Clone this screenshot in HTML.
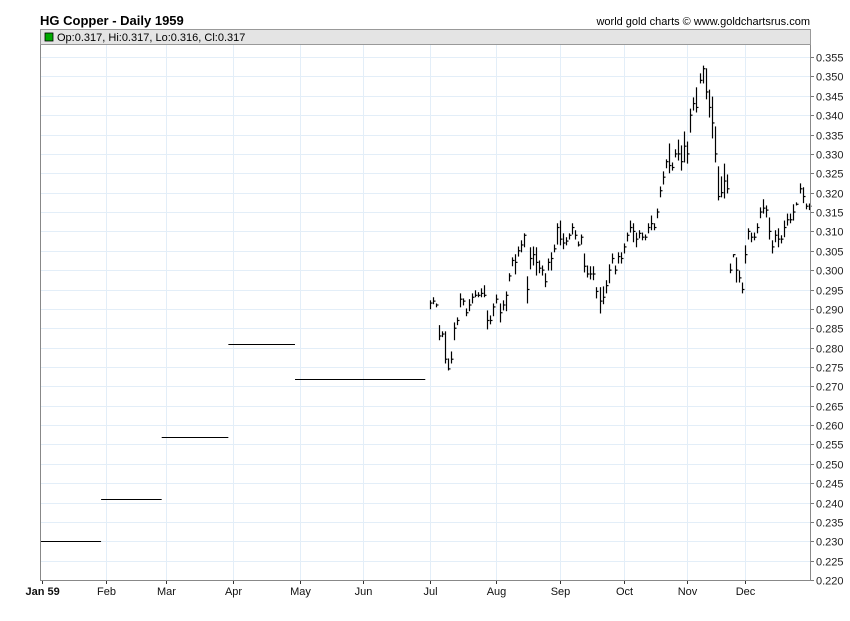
<!DOCTYPE html>
<html><head><meta charset="utf-8"><style>
body{margin:0;background:#fff;}
svg text{font-family:"Liberation Sans",sans-serif;}
</style></head><body>
<svg id="chart" width="850" height="616" xmlns="http://www.w3.org/2000/svg">
<text x="40" y="25" font-size="13" font-weight="bold">HG Copper - Daily 1959</text>
<text x="810" y="25" font-size="11" text-anchor="end">world gold charts © www.goldchartsrus.com</text>
<rect x="40.5" y="29.5" width="770" height="15" fill="#e4e4e4" stroke="#999"/>
<rect x="45" y="33" width="8" height="8" fill="#0a0" stroke="#000" stroke-width="0.8"/>
<text x="57" y="41" font-size="11">Op:0.317, Hi:0.317, Lo:0.316, Cl:0.317</text>
<g id="grid"></g>
<g id="marks"></g>
<g id="axes"></g>
</svg>
<script>
const yTicks=[0.220,0.225,0.230,0.235,0.240,0.245,0.250,0.255,0.260,0.265,0.270,0.275,0.280,0.285,0.290,0.295,0.300,0.305,0.310,0.315,0.320,0.325,0.330,0.335,0.340,0.345,0.350,0.355];
const monthLabels=["Jan 59","Feb","Mar","Apr","May","Jun","Jul","Aug","Sep","Oct","Nov","Dec"];
const monthStartIdx=[0,21,41,63,85,106,128,150,171,192,213,232];
const flatLevels=[0.230,0.241,0.257,0.281,0.272];
const flatStart=[0,20,40,62,84];
const flatEnd=[19,39,61,83,126];
const barStart=128;
const highs=[.2922,.2930,.2914,.2858,.2842,.2842,.2772,.2790,.2865,.2878,.2940,.2927,.2901,.2925,.2940,.2948,.2943,.2953,.2961,.2896,.2883,.2914,.2937,.2914,.2922,.2945,.2992,.3033,.3041,.3061,.3077,.3095,.2984,.3059,.3061,.3059,.3025,.3012,.2992,.3030,.3046,.3066,.3121,.3128,.3095,.3085,.3095,.3121,.3103,.3074,.3092,.3043,.3012,.3010,.3010,.2956,.2956,.2958,.2974,.3015,.3043,.3012,.3046,.3046,.3069,.3097,.3128,.3121,.3097,.3103,.3097,.3092,.3121,.3141,.3121,.3159,.3216,.3255,.3286,.3327,.3278,.3312,.3337,.3322,.3358,.3332,.3417,.3446,.3472,.3508,.3528,.3521,.3466,.3448,.3371,.3268,.3242,.3275,.3247,.3017,.3041,.3033,.2999,.2968,.3064,.3108,.3097,.3097,.3121,.3162,.3183,.3167,.3136,.3077,.3103,.3108,.3090,.3128,.3146,.3146,.3170,.3175,.3224,.3214,.3172,.3172];
const lows=[.2899,.2912,.2904,.2819,.2827,.2759,.2741,.2759,.2819,.2858,.2904,.2909,.2881,.2894,.2914,.2930,.2930,.2930,.2930,.2847,.2860,.2881,.2914,.2865,.2896,.2894,.2971,.3010,.2989,.3035,.3046,.3059,.2914,.3002,.3012,.2986,.2992,.2986,.2956,.2999,.2999,.3046,.3066,.3064,.3054,.3064,.3079,.3092,.3079,.3061,.3066,.2994,.2981,.2976,.2974,.2927,.2888,.2912,.2940,.2966,.3017,.2989,.3017,.3017,.3043,.3074,.3097,.3072,.3059,.3082,.3077,.3077,.3095,.3103,.3103,.3134,.3188,.3221,.3263,.3250,.3257,.3291,.3283,.3257,.3278,.3275,.3355,.3412,.3407,.3482,.3482,.3441,.3394,.3340,.3278,.3180,.3188,.3185,.3198,.2992,.3033,.2968,.2968,.2940,.3017,.3079,.3072,.3077,.3095,.3134,.3146,.3136,.3079,.3043,.3072,.3059,.3069,.3085,.3115,.3121,.3128,.3167,.3198,.3173,.3157,.3155];
const closes=[.2915,.2920,.2910,.2830,.2835,.2770,.2745,.2770,.2850,.2870,.2925,.2920,.2890,.2910,.2930,.2935,.2935,.2940,.2935,.2870,.2870,.2905,.2925,.2890,.2910,.2935,.2985,.3025,.3020,.3050,.3065,.3090,.2950,.3030,.3040,.3020,.3005,.3000,.2970,.3020,.3030,.3055,.3110,.3080,.3070,.3075,.3090,.3110,.3090,.3065,.3085,.3010,.2990,.2990,.2990,.2945,.2920,.2930,.2960,.3000,.3030,.3000,.3035,.3030,.3060,.3090,.3110,.3100,.3080,.3095,.3085,.3085,.3110,.3120,.3110,.3150,.3205,.3240,.3280,.3270,.3265,.3300,.3300,.3280,.3320,.3300,.3400,.3430,.3420,.3490,.3520,.3460,.3420,.3380,.3300,.3190,.3200,.3230,.3210,.3000,.3040,.3000,.2980,.2950,.3040,.3100,.3085,.3085,.3110,.3150,.3160,.3155,.3100,.3060,.3090,.3080,.3080,.3110,.3130,.3130,.3150,.3170,.3210,.3190,.3165,.3165];

const X0=42, DX=3.03, YB=580, YT=57.1, VMIN=0.22, VMAX=0.355;
const xs=i=>X0+i*DX;
const ys=v=>YB-(v-VMIN)/(VMAX-VMIN)*(YB-YT);
const NS="http://www.w3.org/2000/svg";
function mk(tag,attrs,parent){const e=document.createElementNS(NS,tag);for(const k in attrs)e.setAttribute(k,attrs[k]);parent.appendChild(e);return e;}
const grid=document.getElementById('grid'),marks=document.getElementById('marks'),axes=document.getElementById('axes');
yTicks.forEach(v=>{const y=Math.round(ys(v))+0.5;
 const g=mk('line',{x1:40.5,x2:810.5,y1:y,y2:y,stroke:'#e3eef8'},grid);
 
 
 const t=mk('line',{x1:810.5,x2:814,y1:y,y2:y,stroke:'#777'},axes);
 
 
 const l=mk('text',{x:816,y:y+4,'font-size':11,fill:'#222'},axes);l.textContent=v.toFixed(3);
 
 
});
monthStartIdx.forEach((idx,i)=>{const x=Math.round(xs(idx))+0.5;
 if(i>0){const g=mk('line',{x1:x,x2:x,y1:45,y2:580,stroke:'#e3eef8'},grid);
 
 }
 const t=mk('line',{x1:x,x2:x,y1:580,y2:584,stroke:'#333'},axes);
 
 
 const l=mk('text',{x:i==0?x-17:x,y:595,'font-size':11,'text-anchor':i==0?'start':'middle',fill:'#111'},axes);l.textContent=monthLabels[i];
 if(i==0)l.setAttribute('font-weight','bold');
 
 
});
mk('line',{x1:40.5,x2:40.5,y1:45,y2:580.5,stroke:'#888'},axes);
mk('line',{x1:810.5,x2:810.5,y1:45,y2:580.5,stroke:'#888'},axes);
mk('line',{x1:40,x2:811,y1:580.5,y2:580.5,stroke:'#888'},axes);
flatLevels.forEach((v,i)=>{const y=Math.round(ys(v))+0.5;
 const s=mk('line',{x1:xs(flatStart[i])-1.5,x2:xs(flatEnd[i])+1.5,y1:y,y2:y,stroke:'#000'},marks);
 
 
});
highs.forEach((h,i)=>{const x=Math.round(xs(barStart+i))+0.5;
 const g=mk('g',{stroke:'#000','stroke-width':1.2},marks);
 
 
 mk('line',{x1:x,x2:x,y1:ys(h),y2:ys(lows[i])},g);
 const c=ys(closes[i]);
 mk('line',{x1:x,x2:x+2,y1:c,y2:c},g);
});
</script>
</body></html>
